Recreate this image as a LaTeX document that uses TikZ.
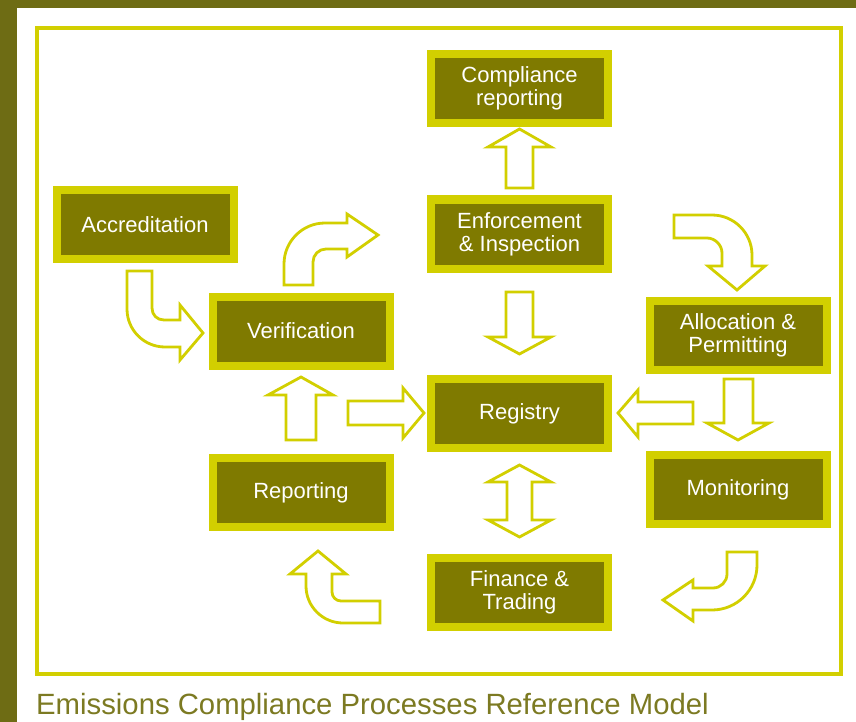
\documentclass[tikz,border=0pt]{standalone}
\usepackage{fontspec}
\setsansfont{Liberation Sans}
\definecolor{bgolive}{HTML}{6E6C14}
\definecolor{boxolive}{HTML}{7F7A00}
\definecolor{boxyellow}{HTML}{D2CF00}
\definecolor{capolive}{HTML}{7C7A22}
\tikzset{
  procbox/.style={draw=boxyellow, fill=boxolive, line width=8pt,
    minimum width=177pt, minimum height=69pt, inner sep=0pt,
    text=white, align=center,
    font=\sffamily\fontsize{22pt}{23pt}\selectfont},
  blockarrow/.style={draw=boxyellow, fill=white, line width=2.8pt, line join=miter},
  framebox/.style={draw=boxyellow, line width=4pt}
}
\begin{document}
\begin{tikzpicture}[x=1pt,y=-1pt]
\useasboundingbox (0,0) rectangle (856,722);
\fill[bgolive] (0,0) rectangle (856,722);
\fill[white] (17,8) rectangle (856,722);
\draw[framebox] (37,28) rectangle (840.5,674);

% boxes
\node[procbox] (comp)  at (519.5,88.5) {Compliance\\reporting};
\node[procbox] (enf)   at (519.5,234)  {Enforcement\\\& Inspection};
\node[procbox] (reg)   at (519.5,413.5){Registry};
\node[procbox] (fin)   at (519.5,592)  {Finance \&\\Trading};
\node[procbox] (alloc) at (738,335)    {Allocation \&\\Permitting};
\node[procbox] (mon)   at (738,489.5)  {Monitoring};
\node[procbox] (ver)   at (301,331)    {Verification};
\node[procbox] (rep)   at (301,492.5)  {Reporting};
\node[procbox] (acc)   at (145,224.5)  {Accreditation};

% straight block arrows
\draw[blockarrow] (506,188) -- (506,147) -- (488,147) -- (519.5,129) -- (551,147) -- (533,147) -- (533,188) -- cycle;
\draw[blockarrow] (506,292) -- (533,292) -- (533,337) -- (551,337) -- (519.5,354) -- (488,337) -- (506,337) -- cycle;
\draw[blockarrow] (519.5,465) -- (551,482) -- (532,482) -- (532,520) -- (551,520) -- (519.5,537) -- (488,520) -- (507,520) -- (507,482) -- (488,482) -- cycle;
\draw[blockarrow] (618,413) -- (638,390) -- (638,402) -- (693,402) -- (693,424) -- (638,424) -- (638,437) -- cycle;
\draw[blockarrow] (724,379) -- (753,379) -- (753,423) -- (769,423) -- (738,440) -- (707,423) -- (724,423) -- cycle;
\draw[blockarrow] (348,401) -- (403,401) -- (403,388) -- (424,413) -- (403,438) -- (403,425) -- (348,425) -- cycle;
\draw[blockarrow] (286,440) -- (286,395) -- (268,395) -- (301,377) -- (333,395) -- (316,395) -- (316,440) -- cycle;

% curved block arrows
% Finance -> Reporting
\draw[blockarrow] (318,551) -- (346,574) -- (332,574) -- (332,592)
  .. controls (332,597) and (336,601) .. (341,601) -- (380,601) -- (380,623) -- (343,623)
  .. controls (322.6,623) and (306,606.4) .. (306,586) -- (306,574) -- (290,574) -- cycle;
% Monitoring -> Finance
\draw[blockarrow] (663,600) -- (693,580) -- (693,588) -- (713,588)
  .. controls (720.7,588) and (727,581.7) .. (727,574) -- (727,552) -- (757,552) -- (757,565)
  .. controls (757,589.9) and (736.9,610) .. (712,610) -- (693,610) -- (693,621) -- cycle;
% Verification -> Enforcement
\draw[blockarrow] (378,235) -- (347,214) -- (347,223) -- (325,223)
  .. controls (302.4,223) and (284,241.4) .. (284,264) -- (284,285) -- (313,285) -- (313,262)
  .. controls (313,254.8) and (318.8,249) .. (326,249) -- (347,249) -- (347,257) -- cycle;
% Accreditation -> Verification
\draw[blockarrow] (127,271) -- (152,271) -- (152,308)
  .. controls (152,315) and (157,320) .. (164,320) -- (180,320) -- (180,305) -- (203,333)
  -- (180,360) -- (180,347) -- (165,347)
  .. controls (144,347) and (127,330) .. (127,309) -- cycle;
% Enforcement -> Allocation
\draw[blockarrow] (674,215) -- (712,215)
  .. controls (734,215) and (752,233) .. (752,255) -- (752,266) -- (765,266) -- (737,290)
  -- (708,266) -- (722,266) -- (722,253)
  .. controls (722,245) and (715,238) .. (707,238) -- (674,238) -- cycle;

% caption
\node[anchor=base west, inner sep=0pt, text=capolive,
  font=\sffamily\fontsize{29.3pt}{32pt}\selectfont] (cap) at (36,714)
  {Emissions Compliance Processes Reference Model};
\end{tikzpicture}
\end{document}
